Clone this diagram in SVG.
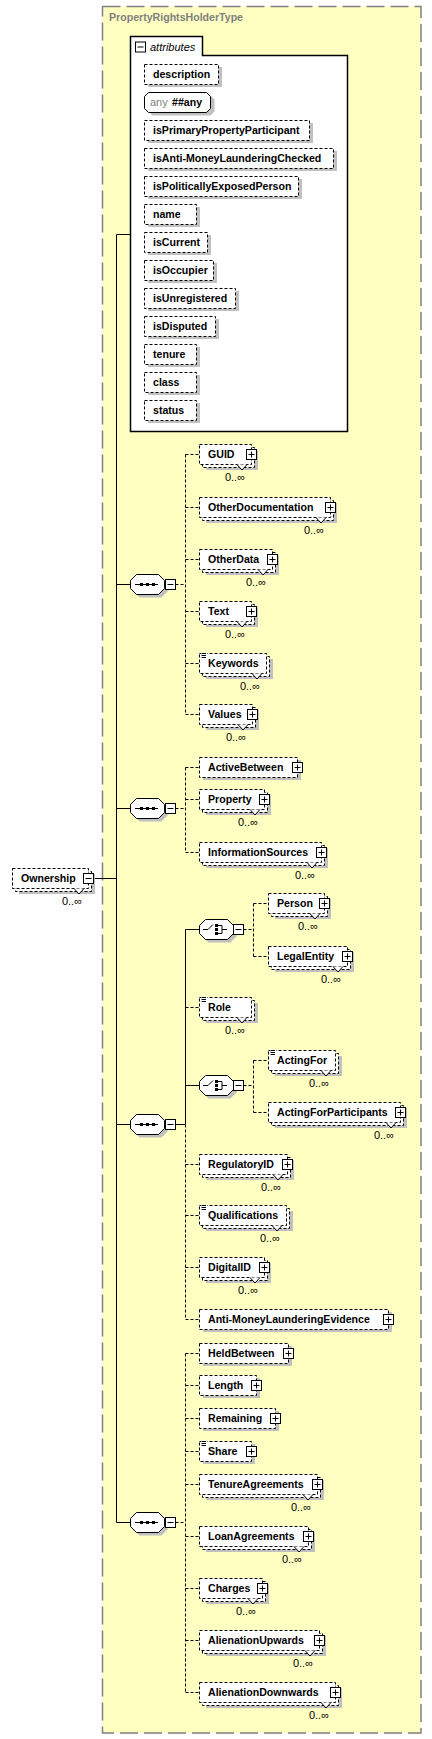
<svg xmlns="http://www.w3.org/2000/svg" xmlns:xlink="http://www.w3.org/1999/xlink" width="432" height="1739" viewBox="0 0 432 1739">
<style>
.sh{fill:#c0c0c0}
.b{fill:#fff;stroke:#000;stroke-dasharray:3 2}
.t{font-family:"Liberation Sans",Arial,sans-serif;font-size:10.6px;font-weight:bold;fill:#000}
.o{font-family:"Liberation Sans",Arial,sans-serif;font-size:11px;fill:#000;text-anchor:end}
.n{fill:#fff;stroke:#000}
.c{stroke:#000;fill:none}
.d{stroke:#000;fill:none;stroke-dasharray:3 2}
</style>
<defs>
<g id="plus"><rect x="0.5" y="0.5" width="10" height="10" fill="#fff" stroke="#000"/><path d="M2.5,5.5H8.5M5.5,2.5V8.5" stroke="#000"/></g>
<g id="minus"><rect x="0.5" y="0.5" width="10" height="10" fill="#fff" stroke="#000"/><path d="M2.5,5.5H8.5" stroke="#000"/></g>
<g id="eq"><rect x="2" y="-0.5" width="6" height="6" fill="#fff"/><path d="M2.5,0.5H7M2.5,2.5H7M2.5,4.5H7" stroke="#000"/></g>
<path id="oct" d="M0.5,-4 L6.5,-10 H28.5 L34.5,-4 V4 L28.5,10 H6.5 L0.5,4 Z"/>
<g id="seq"><use xlink:href="#oct" href="#oct" x="3" y="3" fill="#c0c0c0"/><use xlink:href="#oct" href="#oct" fill="#fff" stroke="#000"/><path d="M5,0H28" stroke="#000"/><rect x="10" y="-1.5" width="3" height="3"/><rect x="16" y="-1.5" width="3" height="3"/><rect x="22" y="-1.5" width="3" height="3"/></g>
<g id="cho"><use xlink:href="#oct" href="#oct" x="3" y="3" fill="#c0c0c0"/><use xlink:href="#oct" href="#oct" fill="#fff" stroke="#000"/><path d="M4,0H9L14,-5M19,-4H23V4H19M23,0H28" stroke="#000" fill="none"/><rect x="16" y="-5.5" width="3" height="3"/><rect x="16" y="-1.5" width="3" height="3"/><rect x="16" y="2.5" width="3" height="3"/></g>
</defs>

<g id="type">
<rect x="102.5" y="6.5" width="318.5" height="1726.5" fill="#ffffc2" stroke="#808080" stroke-width="1.5" stroke-dasharray="18 6"/>
<text x="109" y="21" font-family="Liberation Sans,Arial,sans-serif" font-size="10.6px" font-weight="bold" fill="#808080">PropertyRightsHolderType</text>
</g>

<g id="connectors">
<path class="c" d="M116.5,234.5V1522.5M116.5,234.5H130M116.5,584.5H130M116.5,808.5H130M116.5,1124.5H130M116.5,1522.5H130M93.5,878.5H116.5"/>
<path class="d" d="M175.5,584.5H185.5M185.5,454.5V714.5M185.5,454.5H199M185.5,507.5H199M185.5,559.5H199M185.5,611.5H199M185.5,663.5H199M185.5,714.5H199"/>
<path class="d" d="M175.5,808.5H185.5M185.5,767.5V852.5M185.5,767.5H199M185.5,799.5H199M185.5,852.5H199"/>
<path class="c" d="M175.5,1124.5H185.5M185.5,929.5V1124.5M185.5,929.5H199M185.5,1085.5H199"/>
<path class="d" d="M185.5,1124.5V1319.5M185.5,1007.5H199M185.5,1164.5H199M185.5,1215.5H199M185.5,1267.5H199M185.5,1319.5H199"/>
<path class="d" d="M243.5,929.5H253.5M253.5,903.5V956.5M253.5,903.5H268M253.5,956.5H268"/>
<path class="d" d="M243.5,1085.5H253.5M253.5,1060.5V1112.5M253.5,1060.5H268M253.5,1112.5H268"/>
<path class="d" d="M175.5,1522.5H185.5M185.5,1353.5V1692.5M185.5,1353.5H199M185.5,1385.5H199M185.5,1418.5H199M185.5,1451.5H199M185.5,1484.5H199M185.5,1536.5H199M185.5,1588.5H199M185.5,1640.5H199M185.5,1692.5H199"/>
</g>

<g id="ownership">
<rect class="sh" x="19" y="874" width="76" height="20"/>
<rect class="b" x="15.5" y="871.5" width="76" height="20"/>
<rect class="b" x="12.5" y="868.5" width="76" height="20"/>
<path class="n" d="M74,888.5L79,894L84,888.5"/>
<text class="t" x="21" y="882">Ownership</text>
<use xlink:href="#minus" href="#minus" x="83" y="873"/>
<text class="o" x="82" y="904.5">0..∞</text>
</g>

<g id="attributes">
<path d="M130.5,431.5V36.5H202.5V55.5H347.5V431.5Z" fill="#fff" stroke="#000" stroke-width="1.5"/>
<use xlink:href="#minus" href="#minus" x="135" y="41.5"/>
<text x="150" y="51" font-family="Liberation Sans,Arial,sans-serif" font-size="11px" font-style="italic" fill="#000">attributes</text>
</g>
<g id="attr-description"><rect class="sh" x="148" y="67" width="74" height="20"/><rect class="b" x="144.5" y="64.5" width="74" height="20"/><text class="t" x="153" y="78">description</text></g>
<g id="attr-any"><path transform="translate(148,95)" class="sh" d="M0.5,4.5L4.5,0.5H62.5L66.5,4.5V16.5L62.5,20.5H4.5L0.5,16.5Z"/><path class="n" d="M144.5,96.5L148.5,92.5H206.5L210.5,96.5V108.5L206.5,112.5H148.5L144.5,108.5Z"/><text x="150" y="106" font-family="Liberation Sans,Arial,sans-serif" font-size="11px" fill="#808080">any</text><text class="t" x="172" y="106">##any</text></g>
<g id="attr-isPrimaryPropertyParticipant"><rect class="sh" x="148" y="123" width="165" height="20"/><rect class="b" x="144.5" y="120.5" width="165" height="20"/><text class="t" x="153" y="134">isPrimaryPropertyParticipant</text></g>
<g id="attr-isAntiMLChecked"><rect class="sh" x="148" y="151" width="189" height="20"/><rect class="b" x="144.5" y="148.5" width="189" height="20"/><text class="t" x="153" y="162">isAnti-MoneyLaunderingChecked</text></g>
<g id="attr-isPoliticallyExposedPerson"><rect class="sh" x="148" y="179" width="154" height="20"/><rect class="b" x="144.5" y="176.5" width="154" height="20"/><text class="t" x="153" y="190">isPoliticallyExposedPerson</text></g>
<g id="attr-name"><rect class="sh" x="148" y="207" width="52" height="20"/><rect class="b" x="144.5" y="204.5" width="52" height="20"/><text class="t" x="153" y="218">name</text></g>
<g id="attr-isCurrent"><rect class="sh" x="148" y="235" width="63" height="20"/><rect class="b" x="144.5" y="232.5" width="63" height="20"/><text class="t" x="153" y="246">isCurrent</text></g>
<g id="attr-isOccupier"><rect class="sh" x="148" y="263" width="69" height="20"/><rect class="b" x="144.5" y="260.5" width="69" height="20"/><text class="t" x="153" y="274">isOccupier</text></g>
<g id="attr-isUnregistered"><rect class="sh" x="148" y="291" width="91" height="20"/><rect class="b" x="144.5" y="288.5" width="91" height="20"/><text class="t" x="153" y="302">isUnregistered</text></g>
<g id="attr-isDisputed"><rect class="sh" x="148" y="319" width="71" height="20"/><rect class="b" x="144.5" y="316.5" width="71" height="20"/><text class="t" x="153" y="330">isDisputed</text></g>
<g id="attr-tenure"><rect class="sh" x="148" y="347" width="52" height="20"/><rect class="b" x="144.5" y="344.5" width="52" height="20"/><text class="t" x="153" y="358">tenure</text></g>
<g id="attr-class"><rect class="sh" x="148" y="375" width="52" height="20"/><rect class="b" x="144.5" y="372.5" width="52" height="20"/><text class="t" x="153" y="386">class</text></g>
<g id="attr-status"><rect class="sh" x="148" y="403" width="52" height="20"/><rect class="b" x="144.5" y="400.5" width="52" height="20"/><text class="t" x="153" y="414">status</text></g>

<g id="seq1"><use xlink:href="#seq" href="#seq" transform="translate(130,584.5)"/><use xlink:href="#minus" href="#minus" x="165" y="579"/></g>
<g id="seq2"><use xlink:href="#seq" href="#seq" transform="translate(130,808.5)"/><use xlink:href="#minus" href="#minus" x="165" y="803"/></g>
<g id="seq3"><use xlink:href="#seq" href="#seq" transform="translate(130,1124.5)"/><use xlink:href="#minus" href="#minus" x="165" y="1119"/></g>
<g id="seq4"><use xlink:href="#seq" href="#seq" transform="translate(130,1522.5)"/><use xlink:href="#minus" href="#minus" x="165" y="1517"/></g>
<g id="choice1"><use xlink:href="#cho" href="#cho" transform="translate(199,929.5)"/><use xlink:href="#minus" href="#minus" x="233" y="924"/></g>
<g id="choice2"><use xlink:href="#cho" href="#cho" transform="translate(199,1085.5)"/><use xlink:href="#minus" href="#minus" x="233" y="1080"/></g>

<g id="GUID"><rect class="sh" x="206" y="450" width="52" height="20"/><rect class="b" x="202.5" y="447.5" width="52" height="20"/><rect class="b" x="199.5" y="444.5" width="52" height="20"/><path class="n" d="M237,464.5L242,470L247,464.5"/><text class="t" x="208" y="458">GUID</text><use xlink:href="#plus" href="#plus" x="246" y="449"/><text class="o" x="245" y="480.5">0..∞</text></g>
<g id="OtherDocumentation"><rect class="sh" x="206" y="503" width="131" height="20"/><rect class="b" x="202.5" y="500.5" width="131" height="20"/><rect class="b" x="199.5" y="497.5" width="131" height="20"/><path class="n" d="M316,517.5L321,523L326,517.5"/><text class="t" x="208" y="511">OtherDocumentation</text><use xlink:href="#plus" href="#plus" x="325" y="502"/><text class="o" x="324" y="533.5">0..∞</text></g>
<g id="OtherData"><rect class="sh" x="206" y="555" width="73" height="20"/><rect class="b" x="202.5" y="552.5" width="73" height="20"/><rect class="b" x="199.5" y="549.5" width="73" height="20"/><path class="n" d="M258,569.5L263,575L268,569.5"/><text class="t" x="208" y="563">OtherData</text><use xlink:href="#plus" href="#plus" x="267" y="554"/><text class="o" x="266" y="585.5">0..∞</text></g>
<g id="Text"><rect class="sh" x="206" y="607" width="52" height="20"/><rect class="b" x="202.5" y="604.5" width="52" height="20"/><rect class="b" x="199.5" y="601.5" width="52" height="20"/><path class="n" d="M237,621.5L242,627L247,621.5"/><text class="t" x="208" y="615">Text</text><use xlink:href="#plus" href="#plus" x="246" y="606"/><text class="o" x="245" y="637.5">0..∞</text></g>
<g id="Keywords"><rect class="sh" x="206" y="659" width="67" height="20"/><rect class="b" x="202.5" y="656.5" width="67" height="20"/><rect class="b" x="199.5" y="653.5" width="67" height="20"/><path class="n" d="M252,673.5L257,679L262,673.5"/><use xlink:href="#eq" href="#eq" x="199" y="653"/><text class="t" x="208" y="667">Keywords</text><text class="o" x="260" y="689.5">0..∞</text></g>
<g id="Values"><rect class="sh" x="206" y="710" width="53" height="20"/><rect class="b" x="202.5" y="707.5" width="53" height="20"/><rect class="b" x="199.5" y="704.5" width="53" height="20"/><path class="n" d="M238,724.5L243,730L248,724.5"/><text class="t" x="208" y="718">Values</text><use xlink:href="#plus" href="#plus" x="247" y="709"/><text class="o" x="246" y="740.5">0..∞</text></g>

<g id="ActiveBetween"><rect class="sh" x="203" y="760" width="98" height="20"/><rect class="b" x="199.5" y="757.5" width="98" height="20"/><text class="t" x="208" y="771">ActiveBetween</text><use xlink:href="#plus" href="#plus" x="292" y="762"/></g>
<g id="Property"><rect class="sh" x="206" y="795" width="65" height="20"/><rect class="b" x="202.5" y="792.5" width="65" height="20"/><rect class="b" x="199.5" y="789.5" width="65" height="20"/><path class="n" d="M250,809.5L255,815L260,809.5"/><text class="t" x="208" y="803">Property</text><use xlink:href="#plus" href="#plus" x="259" y="794"/><text class="o" x="258" y="825.5">0..∞</text></g>
<g id="InformationSources"><rect class="sh" x="206" y="848" width="122" height="20"/><rect class="b" x="202.5" y="845.5" width="122" height="20"/><rect class="b" x="199.5" y="842.5" width="122" height="20"/><path class="n" d="M307,862.5L312,868L317,862.5"/><text class="t" x="208" y="856">InformationSources</text><use xlink:href="#plus" href="#plus" x="316" y="847"/><text class="o" x="315" y="878.5">0..∞</text></g>

<g id="Person"><rect class="sh" x="275" y="899" width="56" height="20"/><rect class="b" x="271.5" y="896.5" width="56" height="20"/><rect class="b" x="268.5" y="893.5" width="56" height="20"/><path class="n" d="M310,913.5L315,919L320,913.5"/><text class="t" x="277" y="907">Person</text><use xlink:href="#plus" href="#plus" x="319" y="898"/><text class="o" x="318" y="929.5">0..∞</text></g>
<g id="LegalEntity"><rect class="sh" x="275" y="952" width="79" height="20"/><rect class="b" x="271.5" y="949.5" width="79" height="20"/><rect class="b" x="268.5" y="946.5" width="79" height="20"/><path class="n" d="M333,966.5L338,972L343,966.5"/><text class="t" x="277" y="960">LegalEntity</text><use xlink:href="#plus" href="#plus" x="342" y="951"/><text class="o" x="341" y="982.5">0..∞</text></g>

<g id="Role"><rect class="sh" x="206" y="1003" width="52" height="20"/><rect class="b" x="202.5" y="1000.5" width="52" height="20"/><rect class="b" x="199.5" y="997.5" width="52" height="20"/><path class="n" d="M237,1017.5L242,1023L247,1017.5"/><use xlink:href="#eq" href="#eq" x="199" y="997"/><text class="t" x="208" y="1011">Role</text><text class="o" x="245" y="1033.5">0..∞</text></g>
<g id="ActingFor"><rect class="sh" x="275" y="1056" width="67" height="20"/><rect class="b" x="271.5" y="1053.5" width="67" height="20"/><rect class="b" x="268.5" y="1050.5" width="67" height="20"/><path class="n" d="M321,1070.5L326,1076L331,1070.5"/><use xlink:href="#eq" href="#eq" x="268" y="1050"/><text class="t" x="277" y="1064">ActingFor</text><text class="o" x="329" y="1086.5">0..∞</text></g>
<g id="ActingForParticipants"><rect class="sh" x="275" y="1108" width="132" height="20"/><rect class="b" x="271.5" y="1105.5" width="132" height="20"/><rect class="b" x="268.5" y="1102.5" width="132" height="20"/><path class="n" d="M386,1122.5L391,1128L396,1122.5"/><text class="t" x="277" y="1116">ActingForParticipants</text><use xlink:href="#plus" href="#plus" x="395" y="1107"/><text class="o" x="394" y="1138.5">0..∞</text></g>
<g id="RegulatoryID"><rect class="sh" x="206" y="1160" width="88" height="20"/><rect class="b" x="202.5" y="1157.5" width="88" height="20"/><rect class="b" x="199.5" y="1154.5" width="88" height="20"/><path class="n" d="M273,1174.5L278,1180L283,1174.5"/><text class="t" x="208" y="1168">RegulatoryID</text><use xlink:href="#plus" href="#plus" x="282" y="1159"/><text class="o" x="281" y="1190.5">0..∞</text></g>
<g id="Qualifications"><rect class="sh" x="206" y="1211" width="87" height="20"/><rect class="b" x="202.5" y="1208.5" width="87" height="20"/><rect class="b" x="199.5" y="1205.5" width="87" height="20"/><path class="n" d="M272,1225.5L277,1231L282,1225.5"/><use xlink:href="#eq" href="#eq" x="199" y="1205"/><text class="t" x="208" y="1219">Qualifications</text><text class="o" x="280" y="1241.5">0..∞</text></g>
<g id="DigitalID"><rect class="sh" x="206" y="1263" width="65" height="20"/><rect class="b" x="202.5" y="1260.5" width="65" height="20"/><rect class="b" x="199.5" y="1257.5" width="65" height="20"/><path class="n" d="M250,1277.5L255,1283L260,1277.5"/><text class="t" x="208" y="1271">DigitalID</text><use xlink:href="#plus" href="#plus" x="259" y="1262"/><text class="o" x="258" y="1293.5">0..∞</text></g>
<g id="AntiMoneyLaunderingEvidence"><rect class="sh" x="203" y="1312" width="189" height="20"/><rect class="b" x="199.5" y="1309.5" width="189" height="20"/><text class="t" x="208" y="1323">Anti-MoneyLaunderingEvidence</text><use xlink:href="#plus" href="#plus" x="383" y="1314"/></g>

<g id="HeldBetween"><rect class="sh" x="203" y="1346" width="89" height="20"/><rect class="b" x="199.5" y="1343.5" width="89" height="20"/><text class="t" x="208" y="1357">HeldBetween</text><use xlink:href="#plus" href="#plus" x="283" y="1348"/></g>
<g id="Length"><rect class="sh" x="203" y="1378" width="57" height="20"/><rect class="b" x="199.5" y="1375.5" width="57" height="20"/><text class="t" x="208" y="1389">Length</text><use xlink:href="#plus" href="#plus" x="251" y="1380"/></g>
<g id="Remaining"><rect class="sh" x="203" y="1411" width="76" height="20"/><rect class="b" x="199.5" y="1408.5" width="76" height="20"/><text class="t" x="208" y="1422">Remaining</text><use xlink:href="#plus" href="#plus" x="270" y="1413"/></g>
<g id="Share"><rect class="sh" x="203" y="1444" width="52" height="20"/><rect class="b" x="199.5" y="1441.5" width="52" height="20"/><use xlink:href="#eq" href="#eq" x="199" y="1441"/><text class="t" x="208" y="1455">Share</text><use xlink:href="#plus" href="#plus" x="246" y="1446"/></g>
<g id="TenureAgreements"><rect class="sh" x="206" y="1480" width="118" height="20"/><rect class="b" x="202.5" y="1477.5" width="118" height="20"/><rect class="b" x="199.5" y="1474.5" width="118" height="20"/><path class="n" d="M303,1494.5L308,1500L313,1494.5"/><text class="t" x="208" y="1488">TenureAgreements</text><use xlink:href="#plus" href="#plus" x="312" y="1479"/><text class="o" x="311" y="1510.5">0..∞</text></g>
<g id="LoanAgreements"><rect class="sh" x="206" y="1532" width="109" height="20"/><rect class="b" x="202.5" y="1529.5" width="109" height="20"/><rect class="b" x="199.5" y="1526.5" width="109" height="20"/><path class="n" d="M294,1546.5L299,1552L304,1546.5"/><text class="t" x="208" y="1540">LoanAgreements</text><use xlink:href="#plus" href="#plus" x="303" y="1531"/><text class="o" x="302" y="1562.5">0..∞</text></g>
<g id="Charges"><rect class="sh" x="206" y="1584" width="63" height="20"/><rect class="b" x="202.5" y="1581.5" width="63" height="20"/><rect class="b" x="199.5" y="1578.5" width="63" height="20"/><path class="n" d="M248,1598.5L253,1604L258,1598.5"/><text class="t" x="208" y="1592">Charges</text><use xlink:href="#plus" href="#plus" x="257" y="1583"/><text class="o" x="256" y="1614.5">0..∞</text></g>
<g id="AlienationUpwards"><rect class="sh" x="206" y="1636" width="120" height="20"/><rect class="b" x="202.5" y="1633.5" width="120" height="20"/><rect class="b" x="199.5" y="1630.5" width="120" height="20"/><path class="n" d="M305,1650.5L310,1656L315,1650.5"/><text class="t" x="208" y="1644">AlienationUpwards</text><use xlink:href="#plus" href="#plus" x="314" y="1635"/><text class="o" x="313" y="1666.5">0..∞</text></g>
<g id="AlienationDownwards"><rect class="sh" x="206" y="1688" width="136" height="20"/><rect class="b" x="202.5" y="1685.5" width="136" height="20"/><rect class="b" x="199.5" y="1682.5" width="136" height="20"/><path class="n" d="M321,1702.5L326,1708L331,1702.5"/><text class="t" x="208" y="1696">AlienationDownwards</text><use xlink:href="#plus" href="#plus" x="330" y="1687"/><text class="o" x="329" y="1718.5">0..∞</text></g>
</svg>
